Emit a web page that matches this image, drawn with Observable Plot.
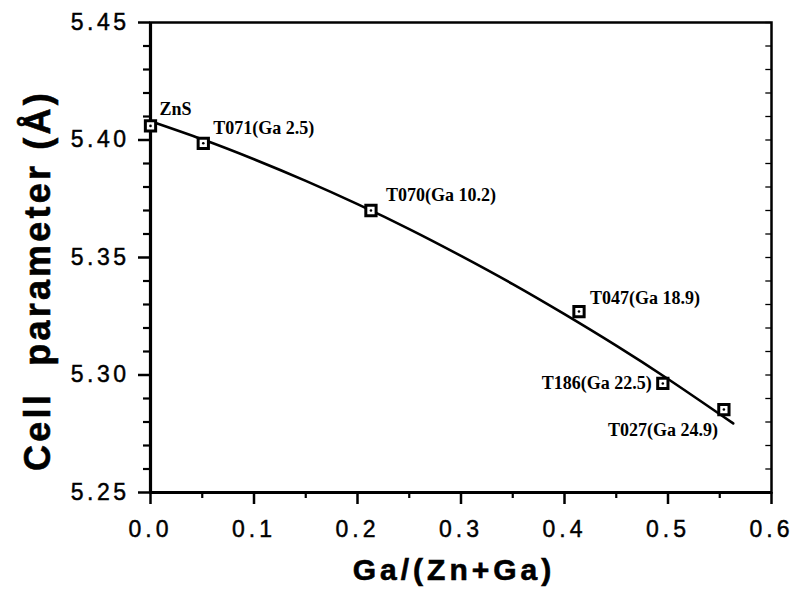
<!DOCTYPE html>
<html>
<head>
<meta charset="utf-8">
<script src="https://cdn.jsdelivr.net/npm/d3@7"></script>
<script src="https://cdn.jsdelivr.net/npm/@observablehq/plot@0.6"></script>
<style>
  html, body { margin: 0; padding: 0; background: #fff; }
</style>
</head>
<body>
<div id="chart"></div>
<script>
// ---- data ----
const pointX = [0.000, 0.051, 0.213, 0.414, 0.495, 0.554];
const pointY = [5.406, 5.3986, 5.370, 5.327, 5.2964, 5.2853];
const pointLabels = ["ZnS", "T071(Ga 2.5)", "T070(Ga 10.2)", "T047(Ga 18.9)", "T186(Ga 22.5)", "T027(Ga 24.9)"];

const curveX = [0.00, 0.05, 0.10, 0.15, 0.20, 0.25, 0.30, 0.35, 0.40, 0.45, 0.50, 0.563];
const curveY = [5.4080, 5.4003, 5.3918, 5.3826, 5.3727, 5.3621, 5.3507, 5.3387, 5.3259, 5.3125, 5.2983, 5.2794];

const xTicks = [0.0, 0.1, 0.2, 0.3, 0.4, 0.5, 0.6];
const xMinorTicks = [0.05, 0.15, 0.25, 0.35, 0.45, 0.55];
const yTicks = [5.25, 5.30, 5.35, 5.40, 5.45];
const yMinorTicks = [5.26, 5.27, 5.28, 5.29, 5.31, 5.32, 5.33, 5.34, 5.36, 5.37, 5.38, 5.39, 5.41, 5.42, 5.43, 5.44];

const xTitle = "Ga/(Zn+Ga)";
const yTitle = "Cell  parameter (Å)";

// ---- build ----
const points = pointX.map((x, i) => ({x, y: pointY[i], label: pointLabels[i]}));
const curve = curveX.map((x, i) => ({x, y: curveY[i]}));

// label placement (style config, not data)
const labelPlacement = [
  {dx: 9,   dy: -17, textAnchor: "start"},
  {dx: 10,  dy: -15, textAnchor: "start"},
  {dx: 15,  dy: -15, textAnchor: "start"},
  {dx: 11,  dy: -13, textAnchor: "start"},
  {dx: -11, dy: 0,   textAnchor: "end"},
  {dx: -6,  dy: 21,  textAnchor: "end"}
];

const sans = "'Liberation Sans', Arial, Helvetica, sans-serif";
const serif = "'Liberation Serif', 'Times New Roman', serif";

const plot = Plot.plot({
  width: 794,
  height: 589,
  marginLeft: 150,
  marginRight: 23,
  marginTop: 22,
  marginBottom: 97,
  style: {fontFamily: sans, background: "#fff", color: "#000"},
  x: {domain: [0, 0.6]},
  y: {domain: [5.25, 5.45]},
  marks: [
    Plot.frame({stroke: "#000", strokeWidth: 2.5}),
    Plot.ruleX([0], {stroke: "#000", strokeWidth: 3.2}),
    Plot.ruleY([5.25], {stroke: "#000", strokeWidth: 3.2}),
    // y axis
    Plot.axisY(yTicks, {tickSize: 12, tickPadding: 9, tickFormat: d3.format(".2f"), fontSize: 23, label: null, strokeWidth: 2.5}),
    Plot.axisY(yMinorTicks, {tickSize: 7, text: null, label: null, strokeWidth: 2.2}),
    Plot.ruleY(yMinorTicks.concat(yTicks), {y: d => d, x1: 0.5945, x2: 0.6, stroke: "#000", strokeWidth: 1.3}),
    // x axis
    Plot.axisX(xTicks, {tickSize: 12, tickPadding: 16, tickFormat: d3.format(".1f"), fontSize: 23, label: null, strokeWidth: 2.5}),
    Plot.axisX(xMinorTicks, {tickSize: 6, text: null, label: null, strokeWidth: 2.2}),
    // fitted curve
    Plot.line(curve, {x: "x", y: "y", curve: "natural", stroke: "#000", strokeWidth: 2.6}),
    // markers
    Plot.dot(points, {x: "x", y: "y", symbol: "square", r: 5.8, stroke: "#000", strokeWidth: 3, fill: "#fff"}),
    Plot.dot(points, {x: "x", y: "y", r: 1.3, fill: "#000", stroke: null}),
    // labels
    ...points.map((p, i) => Plot.text([p], {
      x: "x", y: "y", text: "label",
      dx: labelPlacement[i].dx, dy: labelPlacement[i].dy,
      textAnchor: labelPlacement[i].textAnchor,
      fontFamily: serif, fontWeight: "bold", fontSize: 18, fill: "#000"
    })),
    // titles
    Plot.text([xTitle], {frameAnchor: "bottom", dy: 78, dx: -7, text: d => d, textAnchor: "middle", fontSize: 30, fontWeight: "bold", fontFamily: sans, lineAnchor: "middle"}),
    Plot.text([yTitle], {frameAnchor: "left", dx: -112, dy: 23, rotate: -90, text: d => d, textAnchor: "middle", fontSize: 36, fontWeight: "bold", fontFamily: sans, lineAnchor: "middle"})
  ]
});

document.getElementById("chart").appendChild(plot);

// typographic touches: wide tracking as in the reference
const svg = d3.select(plot);
svg.selectAll("text").each(function () {
  const t = this.textContent;
  const sel = d3.select(this);
  if (t === xTitle) sel.style("letter-spacing", "4px").style("stroke", "#000").style("stroke-width", "0.6px");
  else if (t === yTitle) sel.style("letter-spacing", "3.2px").style("white-space", "pre").style("stroke", "#000").style("stroke-width", "0.6px");
  else if (/^\d\.\d+$/.test(t)) sel.style("letter-spacing", t.length === 4 ? "3.5px" : "4px").style("stroke", "#000").style("stroke-width", "0.45px");
});
</script>
</body>
</html>
